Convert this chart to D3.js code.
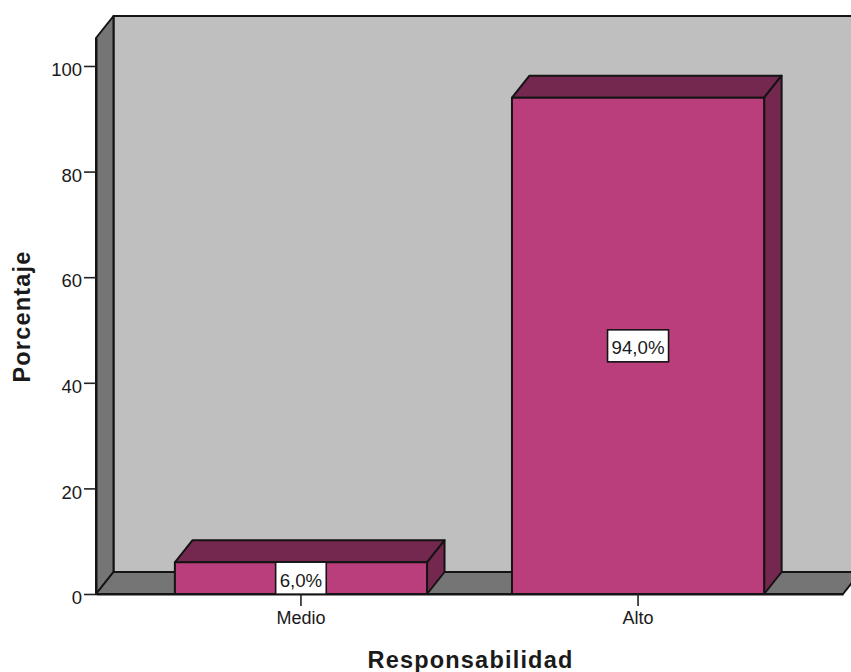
<!DOCTYPE html>
<html>
<head>
<meta charset="utf-8">
<script src="https://cdn.jsdelivr.net/npm/d3@7"></script>
<style>
html,body{margin:0;padding:0;background:#fff}
svg{display:block}
text{font-family:"Liberation Sans",Arial,sans-serif;fill:#1a1a1a}
</style>
</head>
<body>
<svg id="chart" width="851" height="672"></svg>
<script>
const categories = ["Medio", "Alto"];
const percentages = [6.0, 94.0];
const valueLabels = ["6,0%", "94,0%"];
const yTicks = [0, 20, 40, 60, 80, 100];
const xTitle = "Responsabilidad";
const yTitle = "Porcentaje";

const W = 851, H = 672;
const left = 96, right = 843, floorY = 594, topY = 38;
const depthX = 17.5, depthY = -22;
const colors = {wall: "#bfbfbf", side: "#757575", bar: "#ba3e7c", barDark: "#74274f", line: "#141414"};

const svg = d3.select("#chart");
const x = d3.scaleBand().domain(categories).range([left, right]).paddingInner(0.252).paddingOuter(0.234);
const y = d3.scaleLinear().domain([0, 105.3]).range([floorY, topY]);
const path = pts => d3.line()(pts) + "Z";
const face = (pts, fill) => svg.append("path").attr("d", path(pts)).attr("fill", fill)
  .attr("stroke", colors.line).attr("stroke-width", 2).attr("stroke-linejoin", "round");

// Chart box: back wall, left wall and floor
face([[left + depthX, topY + depthY], [W + 30, topY + depthY], [W + 30, floorY + depthY], [left + depthX, floorY + depthY]], colors.wall);
face([[left, topY], [left + depthX, topY + depthY], [left + depthX, floorY + depthY], [left, floorY]], colors.side);
face([[left, floorY], [left + depthX, floorY + depthY], [right + depthX, floorY + depthY], [right, floorY]], colors.side);

// Extruded bars
const data = categories.map((c, i) => ({c, v: percentages[i], label: valueLabels[i]}));
data.forEach(d => {
  const x0 = x(d.c), x1 = x0 + x.bandwidth(), yt = y(d.v);
  face([[x0, yt], [x0 + depthX, yt + depthY], [x1 + depthX, yt + depthY], [x1, yt]], colors.barDark);
  face([[x1, yt], [x1 + depthX, yt + depthY], [x1 + depthX, floorY + depthY], [x1, floorY]], colors.barDark);
  face([[x0, yt], [x1, yt], [x1, floorY], [x0, floorY]], colors.bar);
});

// Axes
const yAxis = d3.axisLeft(y).tickValues(yTicks).tickSize(12).tickPadding(2).tickSizeOuter(0);
const gy = svg.append("g").attr("transform", `translate(${left},0)`).call(yAxis);
gy.selectAll("text").style("font-size", "18.5px").attr("dy", "0.52em");
gy.selectAll("line").attr("stroke", "#222").attr("stroke-width", 1.6);
gy.select(".domain").attr("stroke", colors.line).attr("stroke-width", 2);

const xAxis = d3.axisBottom(x).tickSize(12).tickPadding(5).tickSizeOuter(0);
const gx = svg.append("g").attr("transform", `translate(0,${floorY})`).call(xAxis);
gx.selectAll("text").style("font-size", "18px");
gx.selectAll("line").attr("stroke", "#222").attr("stroke-width", 1.6);
gx.select(".domain").attr("stroke", colors.line).attr("stroke-width", 2);

// Value labels centred in each bar
data.forEach(d => {
  const cx = x(d.c) + x.bandwidth() / 2, cy = y(d.v / 2);
  const g = svg.append("g");
  const t = g.append("text").attr("x", cx).attr("y", cy + 2).attr("text-anchor", "middle")
    .attr("dominant-baseline", "central").style("font-size", "18.7px").text(d.label);
  const w = t.node().getBBox().width + 8;
  g.insert("rect", "text").attr("x", cx - w / 2).attr("y", cy - 16).attr("width", w).attr("height", 32)
    .attr("fill", "#fff").attr("stroke", colors.line).attr("stroke-width", 1.6);
});

// Axis titles
svg.append("text").attr("x", 470.5).attr("y", 668).attr("text-anchor", "middle")
  .style("font-size", "23.5px").style("font-weight", "bold").style("letter-spacing", "1.2px").text(xTitle);
svg.append("text").attr("transform", "translate(30,316.5) rotate(-90)").attr("text-anchor", "middle")
  .style("font-size", "23.5px").style("font-weight", "bold").style("letter-spacing", "1.2px").text(yTitle);
</script>
</body>
</html>
